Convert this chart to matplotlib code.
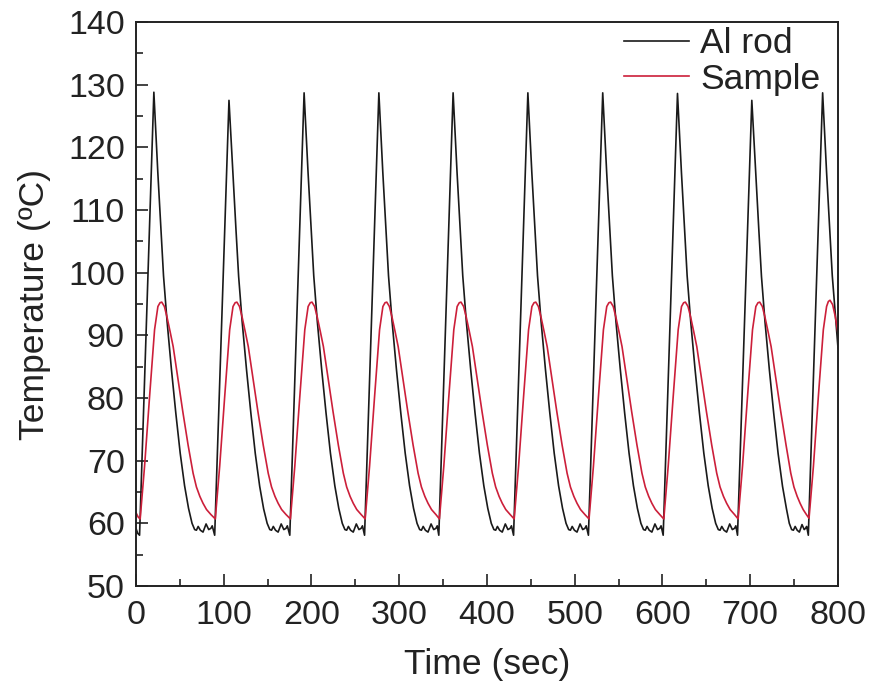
import matplotlib
matplotlib.use("Agg")
import matplotlib.pyplot as plt
from matplotlib.ticker import MultipleLocator

plt.rcParams['font.family'] = ['Liberation Sans', 'DejaVu Sans']

# Al rod temperature trace (time in s, temperature in degC)
al_time = [
    0.0, 2.0, 4.1,
    20.4, 21.9, 24.9, 28.4, 31.4, 35.4, 40.4, 45.4, 50.4, 55.4, 59.9, 63.9, 66.9,
    68.9, 70.9, 73.4, 76.4, 79.9, 82.9, 85.4, 86.9, 89.7,
    106.0, 107.5, 110.5, 114.0, 117.0, 121.0, 126.0, 131.0, 136.0, 141.0, 145.5, 149.5, 152.5,
    154.5, 156.5, 159.0, 162.0, 165.5, 168.5, 171.0, 172.5, 175.3,
    191.6, 193.1, 196.1, 199.6, 202.6, 206.6, 211.6, 216.6, 221.6, 226.6, 231.1, 235.1, 238.1,
    240.1, 242.1, 244.6, 247.6, 251.1, 254.1, 256.6, 258.1, 260.5,
    276.8, 278.3, 281.3, 284.8, 287.8, 291.8, 296.8, 301.8, 306.8, 311.8, 316.3, 320.3, 323.3,
    325.3, 327.3, 329.8, 332.8, 336.3, 339.3, 341.8, 343.3, 345.1,
    361.4, 362.9, 365.9, 369.4, 372.4, 376.4, 381.4, 386.4, 391.4, 396.4, 400.9, 404.9, 407.9,
    409.9, 411.9, 414.4, 417.4, 420.9, 423.9, 426.4, 427.9, 430.3,
    446.6, 448.1, 451.1, 454.6, 457.6, 461.6, 466.6, 471.6, 476.6, 481.6, 486.1, 490.1, 493.1,
    495.1, 497.1, 499.6, 502.6, 506.1, 509.1, 511.6, 513.1, 515.6,
    531.9, 533.4, 536.4, 539.9, 542.9, 546.9, 551.9, 556.9, 561.9, 566.9, 571.4, 575.4, 578.4,
    580.4, 582.4, 584.9, 587.9, 591.4, 594.4, 596.9, 598.4, 600.8,
    617.1, 618.6, 621.6, 625.1, 628.1, 632.1, 637.1, 642.1, 647.1, 652.1, 656.6, 660.6, 663.6,
    665.6, 667.6, 670.1, 673.1, 676.6, 679.6, 682.1, 683.6, 685.5,
    701.8, 703.3, 706.3, 709.8, 712.8, 716.8, 721.8, 726.8, 731.8, 736.8, 741.3, 744.5, 747.2,
    749.2, 751.2, 753.5, 756.0, 759.0, 761.5, 763.0, 764.3, 766.2,
    782.5, 784.0, 787.0, 790.5, 793.5, 797.5, 800.0,
]
al_temp = [
    59.2, 58.4, 58.1,
    128.8, 124.5, 116.0, 107.0, 99.5, 92.3, 84.6, 77.6, 71.2, 66.0, 62.4, 60.0, 59.0,
    58.9, 59.5, 58.9, 58.6, 59.9, 59.0, 59.2, 59.6, 58.1,
    127.5, 123.6, 115.6, 106.8, 99.4, 92.2, 84.5, 77.5, 71.1, 65.9, 62.3, 60.0, 59.0,
    58.9, 59.5, 58.9, 58.6, 59.9, 59.0, 59.2, 59.6, 58.1,
    128.7, 124.5, 116.0, 107.0, 99.5, 92.3, 84.6, 77.6, 71.2, 66.0, 62.4, 60.0, 59.0,
    58.9, 59.5, 58.9, 58.6, 59.9, 59.0, 59.2, 59.6, 58.1,
    128.7, 124.5, 116.0, 107.0, 99.5, 92.3, 84.6, 77.6, 71.2, 66.0, 62.4, 60.0, 59.0,
    58.9, 59.5, 58.9, 58.6, 59.9, 59.0, 59.2, 59.6, 58.1,
    128.7, 124.5, 116.0, 107.0, 99.5, 92.3, 84.6, 77.6, 71.2, 66.0, 62.4, 60.0, 59.0,
    58.9, 59.5, 58.9, 58.6, 59.9, 59.0, 59.2, 59.6, 58.1,
    128.7, 124.5, 116.0, 107.0, 99.5, 92.3, 84.6, 77.6, 71.2, 66.0, 62.4, 60.0, 59.0,
    58.9, 59.5, 58.9, 58.6, 59.9, 59.0, 59.2, 59.6, 58.1,
    128.7, 124.5, 116.0, 107.0, 99.5, 92.3, 84.6, 77.6, 71.2, 66.0, 62.4, 60.0, 59.0,
    58.9, 59.5, 58.9, 58.6, 59.9, 59.0, 59.2, 59.6, 58.1,
    128.6, 124.4, 116.0, 107.0, 99.5, 92.3, 84.6, 77.6, 71.2, 66.0, 62.4, 60.0, 59.0,
    58.9, 59.5, 58.9, 58.6, 59.9, 59.0, 59.2, 59.6, 58.1,
    127.5, 123.6, 115.6, 106.8, 99.4, 92.2, 84.5, 77.5, 71.1, 65.9, 62.3, 60.0, 59.0,
    58.9, 59.5, 58.9, 58.6, 59.8, 59.0, 59.2, 59.5, 58.1,
    128.7, 124.5, 116.0, 107.0, 99.5, 92.3, 88.0,
]

# Sample temperature trace
sample_time = [
    0.0, 2.5, 4.8,
    9.8, 15.5, 21.2, 25.0, 27.4, 29.4, 32.4, 35.4, 38.9, 42.4, 47.4, 53.4, 59.4, 65.1, 68.9,
    72.8, 76.4, 80.4, 85.4, 90.4,
    95.4, 101.1, 106.8, 110.6, 113.0, 115.0, 118.0, 121.0, 124.5, 128.0, 133.0, 139.0, 145.0,
    150.7, 154.5, 158.4, 162.0, 166.0, 171.0, 176.0,
    181.0, 186.7, 192.4, 196.2, 198.6, 200.6, 203.6, 206.6, 210.1, 213.6, 218.6, 224.6, 230.6,
    236.3, 240.1, 244.0, 247.6, 251.6, 256.6, 261.2,
    266.2, 271.9, 277.6, 281.4, 283.8, 285.8, 288.8, 291.8, 295.3, 298.8, 303.8, 309.8, 315.8,
    321.5, 325.3, 329.2, 332.8, 336.8, 341.8, 345.8,
    350.8, 356.5, 362.2, 366.0, 368.4, 370.4, 373.4, 376.4, 379.9, 383.4, 388.4, 394.4, 400.4,
    406.1, 409.9, 413.8, 417.4, 421.4, 426.4, 431.0,
    436.0, 441.7, 447.4, 451.2, 453.6, 455.6, 458.6, 461.6, 465.1, 468.6, 473.6, 479.6, 485.6,
    491.3, 495.1, 499.0, 502.6, 506.6, 511.6, 516.3,
    521.3, 527.0, 532.7, 536.5, 538.9, 540.9, 543.9, 546.9, 550.4, 553.9, 558.9, 564.9, 570.9,
    576.6, 580.4, 584.3, 587.9, 591.9, 596.9, 601.5,
    606.5, 612.2, 617.9, 621.7, 624.1, 626.1, 629.1, 632.1, 635.6, 639.1, 644.1, 650.1, 656.1,
    661.8, 665.6, 669.5, 673.1, 677.1, 682.1, 686.2,
    691.2, 696.9, 702.6, 706.4, 708.8, 710.8, 713.8, 716.8, 720.3, 723.8, 728.8, 734.8, 740.8,
    746.2, 749.8, 753.5, 756.8, 760.3, 764.0, 767.0,
    772.0, 777.6, 783.3, 787.0, 789.0, 790.9, 793.9, 796.9, 800.0,
]
sample_temp = [
    61.7, 61.0, 60.7,
    69.1, 80.2, 90.9, 94.6, 95.2, 95.3, 94.6, 92.9, 90.6, 88.2, 83.5, 77.8, 72.5, 68.0, 65.8,
    64.3, 63.2, 62.2, 61.4, 60.7,
    69.1, 80.2, 90.9, 94.6, 95.2, 95.3, 94.6, 92.9, 90.6, 88.2, 83.5, 77.8, 72.5,
    68.0, 65.8, 64.3, 63.2, 62.2, 61.4, 60.7,
    69.1, 80.2, 90.9, 94.6, 95.2, 95.3, 94.6, 92.9, 90.6, 88.2, 83.5, 77.8, 72.5,
    68.0, 65.8, 64.3, 63.2, 62.2, 61.4, 60.7,
    69.1, 80.2, 90.9, 94.6, 95.2, 95.3, 94.6, 92.9, 90.6, 88.2, 83.5, 77.8, 72.5,
    68.0, 65.8, 64.3, 63.2, 62.2, 61.4, 60.7,
    69.1, 80.2, 90.9, 94.6, 95.2, 95.3, 94.6, 92.9, 90.6, 88.2, 83.5, 77.8, 72.5,
    68.0, 65.8, 64.3, 63.2, 62.2, 61.4, 60.7,
    69.1, 80.2, 90.9, 94.6, 95.2, 95.3, 94.6, 92.9, 90.6, 88.2, 83.5, 77.8, 72.5,
    68.0, 65.8, 64.3, 63.2, 62.2, 61.4, 60.7,
    69.1, 80.2, 90.9, 94.6, 95.2, 95.3, 94.6, 92.9, 90.6, 88.2, 83.5, 77.8, 72.5,
    68.0, 65.8, 64.3, 63.2, 62.2, 61.4, 60.7,
    69.1, 80.2, 90.9, 94.6, 95.2, 95.3, 94.6, 92.9, 90.6, 88.2, 83.5, 77.8, 72.5,
    68.0, 65.8, 64.3, 63.2, 62.2, 61.4, 60.7,
    69.1, 80.2, 90.9, 94.6, 95.2, 95.3, 94.6, 92.9, 90.6, 88.2, 83.5, 77.8, 72.5,
    68.0, 65.8, 64.3, 63.2, 62.2, 61.4, 60.8,
    69.1, 80.2, 90.9, 94.6, 95.4, 95.6, 94.9, 93.0, 90.3,
]

series_labels = ["Al rod", "Sample"]
x_ticks = [0, 100, 200, 300, 400, 500, 600, 700, 800]
y_ticks = [50, 60, 70, 80, 90, 100, 110, 120, 130, 140]

fig = plt.figure(figsize=(8.71, 6.86), dpi=100)
ax = fig.add_axes([0.1561, 0.1458, 0.8060, 0.8221])

ax.plot(al_time, al_temp, color='#1a1a1a', lw=1.2, label=series_labels[0])
ax.plot(sample_time, sample_temp, color='#cc1f3a', lw=1.2, label=series_labels[1])

ax.set_xlim(0, 800)
ax.set_ylim(50, 140)
ax.set_xticks(x_ticks)
ax.set_yticks(y_ticks)
ax.xaxis.set_minor_locator(MultipleLocator(50))
ax.yaxis.set_minor_locator(MultipleLocator(5))
ax.tick_params(which='both', direction='in', top=False, right=False, width=1.2, colors='#222222')
ax.tick_params(which='major', length=8.5, labelsize=24.5, pad=8)
ax.tick_params(which='minor', length=5)
ax.tick_params(axis='x', which='major', pad=10)
for s in ax.spines.values():
    s.set_linewidth(1.4)
    s.set_color('#222222')

ax.set_xlabel("Time (sec)", fontsize=25.5, color='#222222', labelpad=12)
ax.set_ylabel("Temperature (ºC)", fontsize=25.5, color='#222222', labelpad=12)

leg = ax.legend(loc='upper right', bbox_to_anchor=(1.0, 1.022), frameon=False,
                fontsize=25.5, handlelength=1.85, handletextpad=0.3, labelspacing=0.07,
                borderpad=0.0)
for t in leg.get_texts():
    t.set_color('#222222')

fig.savefig("out.png", dpi=100)
